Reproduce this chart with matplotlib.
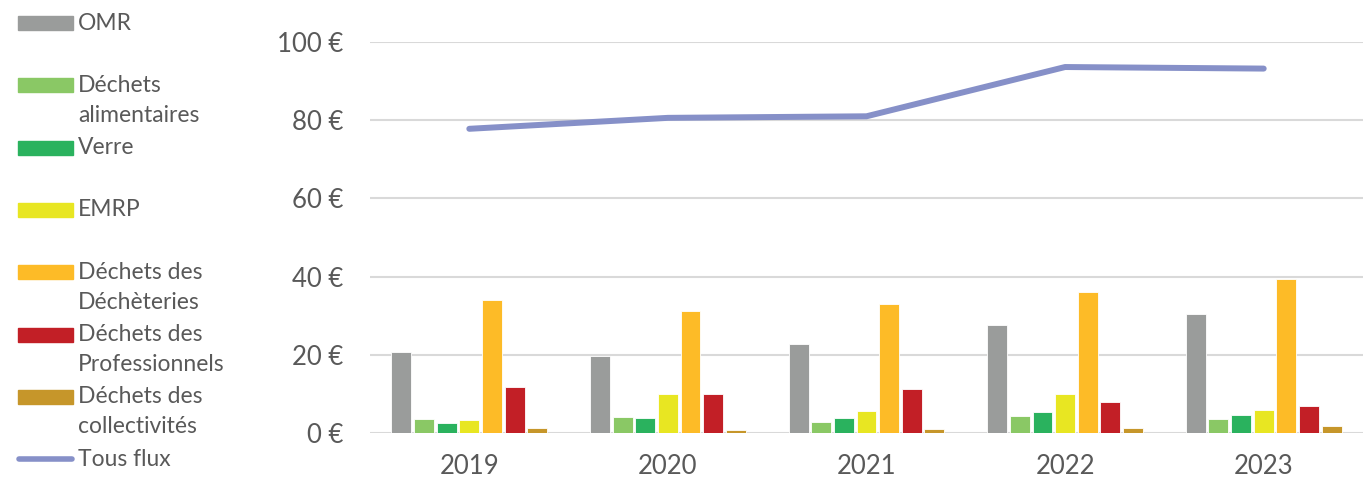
import numpy as np
import matplotlib.pyplot as plt
from matplotlib.patches import Rectangle
from matplotlib.lines import Line2D
from matplotlib.ticker import FuncFormatter

plt.rcParams['font.family'] = ['Lato', 'DejaVu Sans']

annees = ["2019", "2020", "2021", "2022", "2023"]
series = ["OMR", "Déchets\nalimentaires", "Verre", "EMRP", "Déchets des\nDéchèteries",
          "Déchets des\nProfessionnels", "Déchets des\ncollectivités"]
couleurs = ["#9a9c9b", "#8ac865", "#2ab25e", "#e8e622", "#fdbb27", "#c21f26", "#c6962a"]

omr = [20.7, 19.6, 22.8, 27.6, 30.4]
alim = [3.6, 4.1, 2.8, 4.4, 3.6]
verre = [2.5, 3.8, 3.8, 5.3, 4.7]
emrp = [3.3, 10.1, 5.6, 10.1, 5.8]
decheteries = [34.0, 31.2, 32.9, 36.1, 39.3]
pros = [11.7, 9.9, 11.3, 8.0, 7.0]
collectivites = [1.2, 0.8, 1.0, 1.4, 1.8]
tous_flux = [77.8, 80.6, 81.0, 93.6, 93.2]
valeurs = [omr, alim, verre, emrp, decheteries, pros, collectivites]

W, H = 1363, 482
fig = plt.figure(figsize=(W / 100, H / 100), dpi=100)
ax = fig.add_axes([370 / W, 1 - 433 / H, 993 / W, 391 / H])

x = np.arange(len(annees))
pas = 0.114
for i, (v, c) in enumerate(zip(valeurs, couleurs)):
    ax.bar(x + (i - 3) * pas, v, width=0.1, color=c, edgecolor="white", linewidth=0.6, zorder=3)

ax.plot(x, tous_flux, color="#8690c8", lw=4.3, solid_capstyle="round", zorder=4)

ax.set_xlim(-0.5, 4.5)
ax.set_ylim(0, 100)
ax.set_yticks([0, 20, 40, 60, 80, 100])
ax.yaxis.set_major_formatter(FuncFormatter(lambda v, p: f"{v:.0f} €"))
ax.set_xticks(x)
ax.set_xticklabels(annees)
ax.tick_params(length=0, labelsize=18.5, colors="#595959")
ax.tick_params(axis="y", pad=19)
ax.tick_params(axis="x", pad=15)
ax.grid(axis="y", color="#d9d9d9", lw=1.5, zorder=0)
for s in ax.spines.values():
    s.set_visible(False)

# legende a gauche, placee a la main
for i, (nom, c) in enumerate(zip(series + ["Tous flux"], couleurs + ["#8690c8"])):
    yc = 23 + 62.3 * i
    if nom == "Tous flux":
        fig.add_artist(Line2D([19 / W, 72 / W], [1 - yc / H] * 2, color=c, lw=4,
                              solid_capstyle="round", transform=fig.transFigure))
    else:
        fig.add_artist(Rectangle((18 / W, 1 - (yc + 7) / H), 55 / W, 14 / H,
                                 color=c, transform=fig.transFigure))
    for j, ligne in enumerate(nom.split("\n")):
        fig.text(78 / W, 1 - (yc + 30 * j) / H, ligne, va="center", ha="left",
                 fontsize=16.5, color="#595959")

fig.savefig("out.png", dpi=100)
